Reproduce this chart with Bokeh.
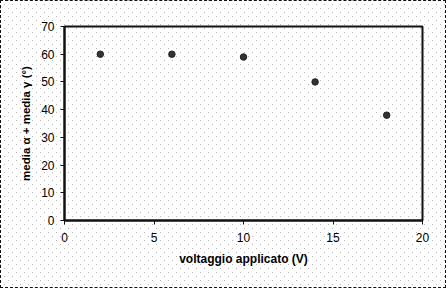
from bokeh.plotting import figure
from bokeh.models import Range1d, FixedTicker, InlineStyleSheet
from bokeh.embed import file_html
from bokeh.resources import INLINE

voltage = [2, 6, 10, 14, 18]
angle_sum = [60, 60, 59, 50, 38]
x_ticks = [0, 5, 10, 15, 20]
y_ticks = [0, 10, 20, 30, 40, 50, 60, 70]

dots = ("url(\"data:image/svg+xml;utf8,<svg xmlns='http://www.w3.org/2000/svg' width='8' height='8'>"
        "<rect x='0' y='0' width='1' height='1' fill='%23b4b4b4'/>"
        "<rect x='4' y='4' width='1' height='1' fill='%23b4b4b4'/></svg>\")")
css = InlineStyleSheet(css=":host { background-color: #ffffff; background-image: " + dots +
                       "; background-size: 8px 8px; outline: 1px dashed #111; outline-offset: -1px; }")

p = figure(width=446, height=288, output_backend="svg", toolbar_location=None,
           x_range=Range1d(0, 20), y_range=Range1d(0, 70),
           min_border_left=64, min_border_right=24, min_border_top=26, min_border_bottom=68,
           stylesheets=[css])
p.background_fill_alpha = 0
p.border_fill_alpha = 0
p.outline_line_color = "#111111"
p.outline_line_width = 2
p.grid.visible = False

for ax in (p.xaxis[0], p.yaxis[0]):
    ax.axis_line_color = "#111111"
    ax.axis_line_width = 2
    ax.major_tick_line_color = "#111111"
    ax.major_tick_line_width = 1
    ax.major_tick_out = 4
    ax.major_tick_in = 0
    ax.minor_tick_line_color = None
    ax.major_label_text_font = "Liberation Sans"
    ax.major_label_text_font_size = "12px"
    ax.major_label_text_color = "#000000"
    ax.axis_label_text_font = "Liberation Sans"
    ax.axis_label_text_font_style = "bold"
    ax.axis_label_text_color = "#000000"

p.xaxis.axis_label_text_font_size = "12px"
p.yaxis.axis_label_text_font_size = "11.5px"
p.xaxis.ticker = FixedTicker(ticks=x_ticks)
p.yaxis.ticker = FixedTicker(ticks=y_ticks)
p.xaxis.axis_label = "voltaggio applicato (V)"
p.yaxis.axis_label = "media α + media γ (°)"
p.xaxis.major_label_standoff = 8
p.yaxis.major_label_standoff = 6
p.xaxis.axis_label_standoff = 7
p.yaxis.axis_label_standoff = 6

p.scatter(voltage, angle_sum, size=6.5, marker="circle", fill_color="#333333", line_color="#222222")

open("out.html", "w").write(file_html(p, INLINE))
